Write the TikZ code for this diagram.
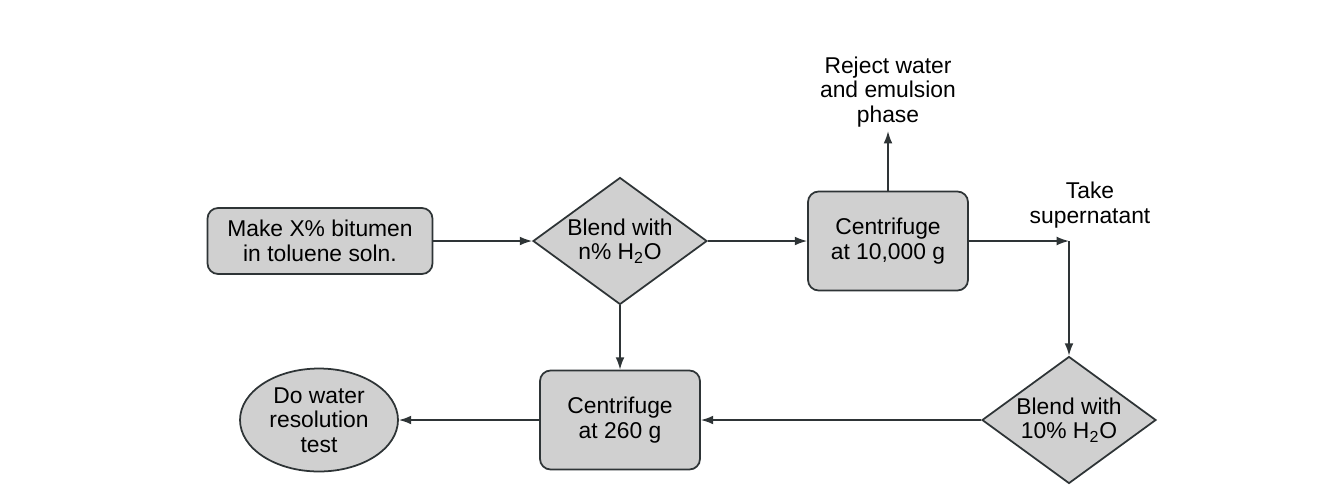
\documentclass[tikz,border=0pt]{standalone}
\usepackage{fontspec}
\setmainfont{Liberation Sans}
\usepackage{tikz}
\usetikzlibrary{arrows.meta,positioning,shapes.geometric}
\usepackage{xcolor}
\definecolor{boxfill}{HTML}{D0D0D0}
\definecolor{edge}{HTML}{2E3436}

\begin{document}
\begin{tikzpicture}[x=0.02cm,y=-0.02cm,
    font=\fontsize{13}{14}\selectfont,
    stepbox/.style={draw=edge,line width=1pt,fill=boxfill,rounded corners=6pt,
      align=center,minimum width=3.2cm,minimum height=1.98cm,inner sep=2pt},
    blend/.style={draw=edge,line width=1pt,fill=boxfill,diamond,aspect=1.38,
      align=center,minimum width=3.48cm,minimum height=2.54cm,inner sep=0pt},
    testoval/.style={draw=edge,line width=1pt,fill=boxfill,ellipse,
      align=center,minimum width=3.16cm,minimum height=2.06cm,inner sep=0pt},
    note/.style={align=center,inner sep=2pt},
    flow/.style={-{Latex[length=7pt,width=5pt]},line width=0.9pt,draw=edge}]
  \useasboundingbox (0,0) rectangle (1322,498);
  % upper row
  \node[stepbox,minimum width=4.5cm,minimum height=1.32cm] (make) at (320,241)
    {Make X\% bitumen\\in toluene soln.};
  \node[blend] (blendA) at (620,241) {Blend with\\n\% H\textsubscript{2}O};
  \node[stepbox] (spinA) at (888,241) {Centrifuge\\at 10,000 g};
  \node[note] (reject) at (888,92) {Reject water\\and emulsion\\phase};
  \node[note] (take) at (1090,205) {Take\\supernatant};
  \coordinate (turn) at (1069,241);
  % lower row
  \node[blend] (blendB) at (1069,420) {Blend with\\10\% H\textsubscript{2}O};
  \node[stepbox] (spinB) at (620,420) {Centrifuge\\at 260 g};
  \node[testoval] (test) at (319,420) {Do water\\resolution\\test};
  % connectors
  \draw[flow] (make) -- (blendA);
  \draw[flow] (blendA) -- (spinA);
  \draw[flow] (spinA) -- (reject);
  \draw[flow] (spinA) -- (turn);
  \draw[flow] (turn) -- (blendB.north);
  \draw[flow] (blendB) -- (spinB);
  \draw[flow] (blendA) -- (spinB);
  \draw[flow] (spinB) -- (test);
\end{tikzpicture}
\end{document}
